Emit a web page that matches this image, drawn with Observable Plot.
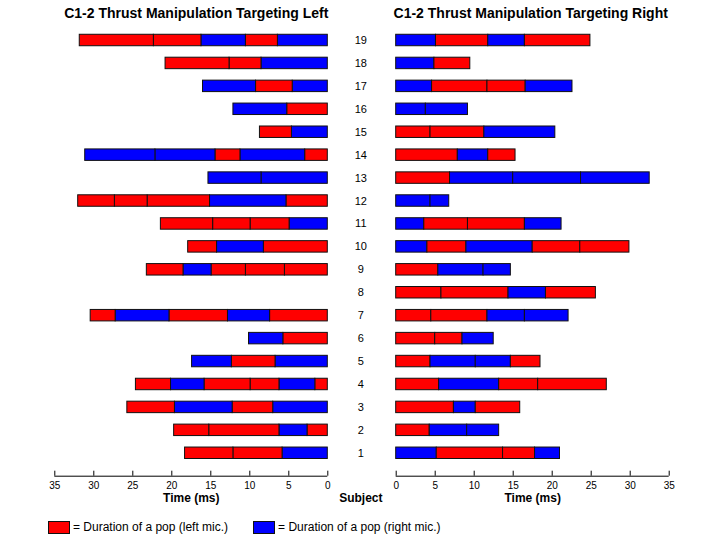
<!DOCTYPE html>
<html>
<head>
<meta charset="utf-8">
<script src="https://cdn.jsdelivr.net/npm/d3@7"></script>
<script src="https://cdn.jsdelivr.net/npm/@observablehq/plot@0.6"></script>
<style>
  body { margin: 0; background: white; font-family: "Liberation Sans", Arial, sans-serif; }
  #wrap { position: relative; width: 720px; height: 540px; background: white; }
  #left { position: absolute; left: 0; top: 0; }
  #right { position: absolute; left: 380px; top: 0; }
  #legend { position: absolute; left: 48px; top: 520px; font-size: 12px; color: #000; display: flex; align-items: center; white-space: nowrap; }
  .sw { display: inline-block; width: 20px; height: 11px; border: 1px solid #111; margin-right: 3px; }
  .item { display: flex; align-items: center; }
</style>
</head>
<body>
<div id="wrap">
  <div id="left"></div>
  <div id="right"></div>
  <div id="legend"></div>
</div>
<script>
const subjects = d3.range(1, 20);
const xTicks = [0, 5, 10, 15, 20, 25, 30, 35];
const titles = ["C1-2 Thrust Manipulation Targeting Left", "C1-2 Thrust Manipulation Targeting Right"];
const micLabels = {L: "= Duration of a pop (left mic.)", R: "= Duration of a pop (right mic.)"};
const micColors = {L: "#ff0000", R: "#0000ff"};

// Cumulative segment end times (ms) per subject 1..19, from 0 outward
const leftEnds = [
  [5.8, 12.1, 18.3],
  [2.6, 6.2, 15.2, 19.7],
  [7.0, 12.2, 19.6, 25.7],
  [1.6, 6.2, 9.9, 15.8, 20.1, 24.6],
  [6.7, 12.3, 17.4],
  [5.7, 10.1],
  [7.4, 12.8, 20.3, 27.2, 30.4],
  [],
  [5.5, 10.5, 14.9, 18.5, 23.2],
  [8.2, 14.2, 17.9],
  [4.9, 9.9, 14.7, 21.4],
  [5.3, 15.1, 23.1, 27.3, 32.0],
  [8.5, 15.3],
  [2.9, 11.2, 14.4, 22.1, 31.1],
  [4.6, 8.7],
  [5.2, 12.1],
  [4.5, 9.2, 16.0],
  [8.5, 12.6, 20.8],
  [6.4, 10.5, 16.2, 22.3, 31.8]
];
// Which microphone each segment belongs to (L = left/red, R = right/blue)
const leftMics = [
  "RLL", "LRLL", "RLRL", "LRLLRL", "RLR", "LR", "LRLRL", "", "LLLRL", "LRL",
  "RLLL", "LRLLL", "RR", "LRLRR", "RL", "LR", "RLR", "RLL", "RLRLL"
];
const rightEnds = [
  [5.2, 13.7, 17.8, 21.0],
  [4.3, 9.1, 13.2],
  [7.4, 10.2, 15.9],
  [5.5, 13.2, 18.2, 27.0],
  [4.4, 10.2, 14.7, 18.5],
  [5.0, 8.5, 12.5],
  [4.5, 11.7, 16.5, 22.1],
  [5.8, 14.4, 19.2, 25.6],
  [5.4, 11.2, 14.7],
  [4.0, 9.0, 17.5, 23.6, 29.9],
  [3.6, 9.2, 16.5, 21.2],
  [4.4, 6.8],
  [6.9, 15.0, 23.7, 32.5],
  [7.9, 11.8, 15.3],
  [4.4, 11.3, 20.4],
  [3.8, 9.2],
  [4.6, 11.7, 16.6, 22.6],
  [4.9, 9.5],
  [5.1, 11.8, 16.5, 24.9]
];
const rightMics = [
  "RLLR", "LRR", "LRL", "LRLL", "LRRL", "LLR", "LLRR", "LLRL", "LRR", "RLRLL",
  "RLLR", "RR", "LRRR", "LRL", "LLR", "RR", "RLLR", "RL", "RLRL"
];

function segments(ends, mics) {
  const out = [];
  subjects.forEach((s, i) => {
    let start = 0;
    ends[i].forEach((e, j) => {
      out.push({subject: s, start, end: e, mic: mics[i][j]});
      start = e;
    });
  });
  return out;
}

const font = "Liberation Sans, Arial, Helvetica, sans-serif";

function panel({ends, mics, title, reverse, width, marginLeft, marginRight, left}) {
  const data = segments(ends, mics);
  const marks = [
    Plot.rect(data, {
      x1: "start", x2: "end",
      y1: d => d.subject - 0.25, y2: d => d.subject + 0.25,
      fill: d => micColors[d.mic],
      stroke: "#111", strokeWidth: 1
    }),
    Plot.ruleY([0], {stroke: "#000", strokeWidth: 1}),
    Plot.axisX(xTicks, {tickSize: -5, tickPadding: 11, fontSize: 10, label: null, stroke: "#000"}),
    Plot.text([title], {frameAnchor: "top", lineAnchor: "middle", dy: -27, dx: left ? 5 : -2, fontSize: 14, fontWeight: "bold"}),
    Plot.text(["Time (ms)"], {frameAnchor: "bottom", lineAnchor: "top", dy: 17, fontSize: 12, fontWeight: "bold"})
  ];
  if (left) {
    marks.push(Plot.text(subjects, {y: d => d, text: d => String(d), frameAnchor: "right", dx: 33, textAnchor: "middle", fontSize: 11}));
    marks.push(Plot.text(["Subject"], {frameAnchor: "bottom-right", dx: 33, textAnchor: "middle", lineAnchor: "top", dy: 17, fontSize: 12, fontWeight: "bold"}));
  }
  return Plot.plot({
    width, height: 510,
    marginLeft, marginRight, marginTop: 40, marginBottom: 34.3,
    style: {fontFamily: font, fontSize: "11px", color: "#000", background: "transparent", overflow: "visible"},
    x: {domain: [0, 35], reverse},
    y: {domain: [0, 19], axis: null},
    marks
  });
}

document.getElementById("left").appendChild(panel({
  ends: leftEnds, mics: leftMics, title: titles[0], reverse: true,
  width: 380, marginLeft: 54.3, marginRight: 52.7, left: true
}));
document.getElementById("right").appendChild(panel({
  ends: rightEnds, mics: rightMics, title: titles[1], reverse: false,
  width: 340, marginLeft: 15.7, marginRight: 51.3, left: false
}));

const legend = document.getElementById("legend");
["L", "R"].forEach((k, i) => {
  const item = document.createElement("span");
  item.className = "item";
  if (i === 1) item.style.marginLeft = "25px";
  const sw = document.createElement("span");
  sw.className = "sw";
  sw.style.background = micColors[k];
  item.appendChild(sw);
  item.appendChild(document.createTextNode(micLabels[k]));
  legend.appendChild(item);
});
</script>
</body>
</html>
